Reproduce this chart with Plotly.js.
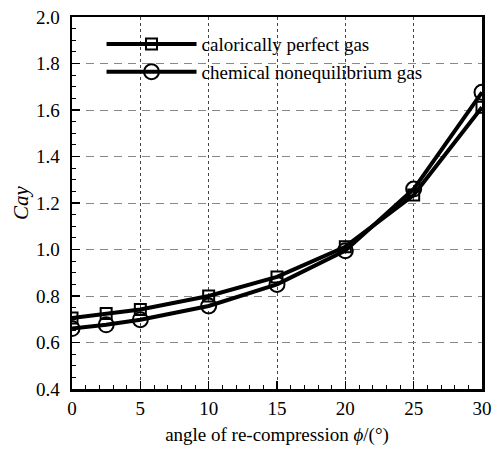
<!DOCTYPE html>
<html>
<head>
<meta charset="utf-8">
<script src="https://cdn.plot.ly/plotly-3.0.1.min.js"></script>
<style>
  html, body { margin: 0; padding: 0; background: #fff; }
  #chart { width: 498px; height: 452px; }
</style>
</head>
<body>
<div id="chart"></div>
<script>
// Re-compression angle (degrees)
const angle = [0, 2.5, 5, 10, 15, 20, 25, 30];
// Cay for a calorically perfect gas
const cayPerfect = [0.705, 0.725, 0.742, 0.800, 0.882, 1.012, 1.234, 1.612];
// Cay for a chemical nonequilibrium gas
const cayNoneq = [0.660, 0.676, 0.698, 0.757, 0.850, 0.995, 1.260, 1.676];

const seriesNames = ['calorically perfect gas', 'chemical nonequilibrium gas'];
const xTicks = [0, 5, 10, 15, 20, 25, 30];
const yTicks = [0.4, 0.6, 0.8, 1.0, 1.2, 1.4, 1.6, 1.8, 2.0];

const serif = '"Liberation Serif", "Times New Roman", serif';

const traces = [
  {
    x: angle, y: cayPerfect, name: seriesNames[0],
    type: 'scatter', mode: 'lines+markers',
    line: { color: '#000', width: 4 },
    marker: { symbol: 'square-open', size: 11, color: '#000', line: { width: 2, color: '#000' } }
  },
  {
    x: angle, y: cayNoneq, name: seriesNames[1],
    type: 'scatter', mode: 'lines+markers',
    line: { color: '#000', width: 4 },
    marker: { symbol: 'circle-open', size: 15, color: '#000', line: { width: 2, color: '#000' } }
  }
];

const layout = {
  width: 498, height: 452,
  margin: { l: 72, r: 16, t: 17, b: 63 },
  paper_bgcolor: '#fff', plot_bgcolor: '#fff',
  font: { family: serif, size: 19, color: '#000' },
  showlegend: true,
  legend: {
    x: 0.072, y: 0.978, xanchor: 'left', yanchor: 'top',
    bgcolor: 'rgba(255,255,255,0)', borderwidth: 0,
    font: { family: serif, size: 19, color: '#000' },
    itemwidth: 90, tracegroupgap: 0
  },
  xaxis: {
    range: [0, 30], tickvals: xTicks, ticktext: xTicks.map(String),
    ticks: 'inside', ticklen: 8, tickwidth: 1.5, tickcolor: '#000',
    minor: { dtick: 1, ticks: 'inside', ticklen: 4, tickwidth: 1, tickcolor: '#000', showgrid: false },
    showline: true, linecolor: '#000', linewidth: 2.5, mirror: true,
    showgrid: true, gridcolor: '#444', gridwidth: 1, griddash: '3px,3px',
    zeroline: false, ticklabelstandoff: 1,
    tickfont: { family: serif, size: 19, color: '#000' },
    title: { text: 'angle of re-compression <i>ϕ</i>/(°)', font: { family: serif, size: 19, color: '#000' }, standoff: 10 }
  },
  yaxis: {
    range: [0.4, 2.0], tickvals: yTicks, ticktext: yTicks.map(v => v.toFixed(1)),
    ticks: 'inside', ticklen: 8, tickwidth: 1.5, tickcolor: '#000',
    minor: { dtick: 0.05, ticks: 'inside', ticklen: 4, tickwidth: 1, tickcolor: '#000', showgrid: false },
    showline: true, linecolor: '#000', linewidth: 2.5, mirror: true,
    showgrid: true, gridcolor: '#888', gridwidth: 1, griddash: '8px,6px',
    zeroline: false, ticklabelstandoff: 6,
    tickfont: { family: serif, size: 19, color: '#000' },
    title: { text: '<i>Cay</i>', font: { family: serif, size: 21, color: '#000' }, standoff: 2 }
  }
};

Plotly.newPlot('chart', traces, layout, { displayModeBar: false, staticPlot: true });
</script>
</body>
</html>
